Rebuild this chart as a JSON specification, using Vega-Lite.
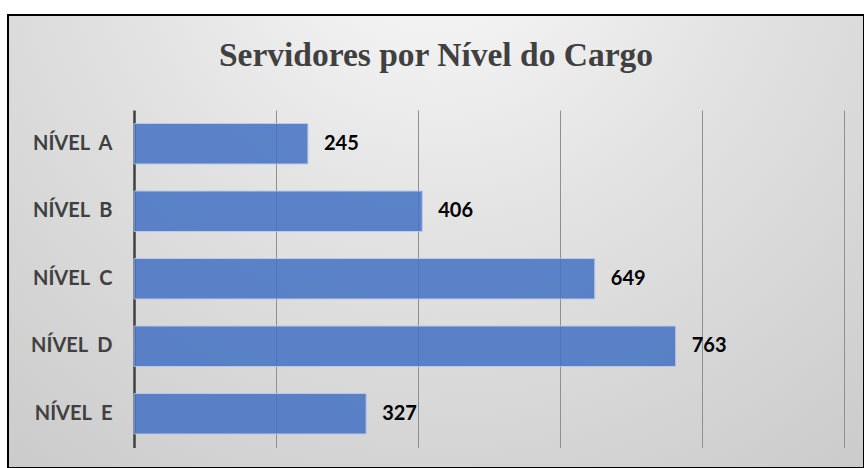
{
  "$schema": "https://vega.github.io/schema/vega-lite/v6.json",
  "width": 856,
  "height": 453,
  "autosize": {"type": "none"},
  "padding": {"left": 8, "top": 15, "right": 0, "bottom": 0},
  "background": "white",
  "view": {
    "fill": {
      "gradient": "radial",
      "x1": 0.5, "y1": 0.12, "r1": 0,
      "x2": 0.5, "y2": 0.12, "r2": 0.85,
      "stops": [
        {"offset": 0, "color": "#fafafa"},
        {"offset": 0.45, "color": "#e2e2e2"},
        {"offset": 1, "color": "#c9c9c9"}
      ]
    },
    "stroke": "#000000",
    "strokeWidth": 2
  },
  "title": {
    "text": "Servidores por Nível do Cargo",
    "font": "Liberation Serif",
    "fontSize": 33.5,
    "fontWeight": "bold",
    "color": "#404040",
    "anchor": "middle",
    "frame": "group",
    "orient": "top",
    "offset": -84,
    "baseline": "alphabetic"
  },
  "data": {
    "values": [
      {"nivel": "NÍVEL\u00a0 A", "servidores": 245},
      {"nivel": "NÍVEL\u00a0 B", "servidores": 406},
      {"nivel": "NÍVEL\u00a0 C", "servidores": 649},
      {"nivel": "NÍVEL\u00a0 D", "servidores": 763},
      {"nivel": "NÍVEL\u00a0 E", "servidores": 327}
    ]
  },
  "encoding": {
    "y": {
      "field": "nivel",
      "type": "nominal",
      "sort": null,
      "scale": {"range": [95, 432.5], "paddingInner": 0.4, "paddingOuter": 0.2},
      "axis": {
        "orient": "left",
        "offset": -126,
        "title": null,
        "grid": false,
        "ticks": false,
        "tickSize": 0,
        "domainColor": "#404040",
        "domainWidth": 2.5,
        "labelPadding": 22,
        "labelFont": "Lato",
        "labelFontSize": 20,
        "labelFontWeight": "bold",
        "labelColor": "#404040"
      }
    },
    "x": {
      "field": "servidores",
      "type": "quantitative",
      "scale": {"domain": [0, 1000], "range": [126, 836], "nice": false, "zero": true},
      "axis": {
        "orient": "top",
        "title": null,
        "grid": true,
        "values": [200, 400, 600, 800, 1000],
        "labels": false,
        "ticks": false,
        "domain": false,
        "gridColor": "#8f8f8f",
        "gridWidth": 1
      }
    }
  },
  "layer": [
    {"mark": {"type": "bar", "color": "#4472C4", "opacity": 0.85, "stroke": "#b4c7e7", "strokeWidth": 1}},
    {
      "mark": {"type": "text", "align": "left", "baseline": "middle", "dx": 16, "font": "Lato", "fontSize": 20, "fontWeight": "bold", "color": "#000000"},
      "encoding": {"text": {"field": "servidores", "type": "quantitative"}}
    }
  ]
}
